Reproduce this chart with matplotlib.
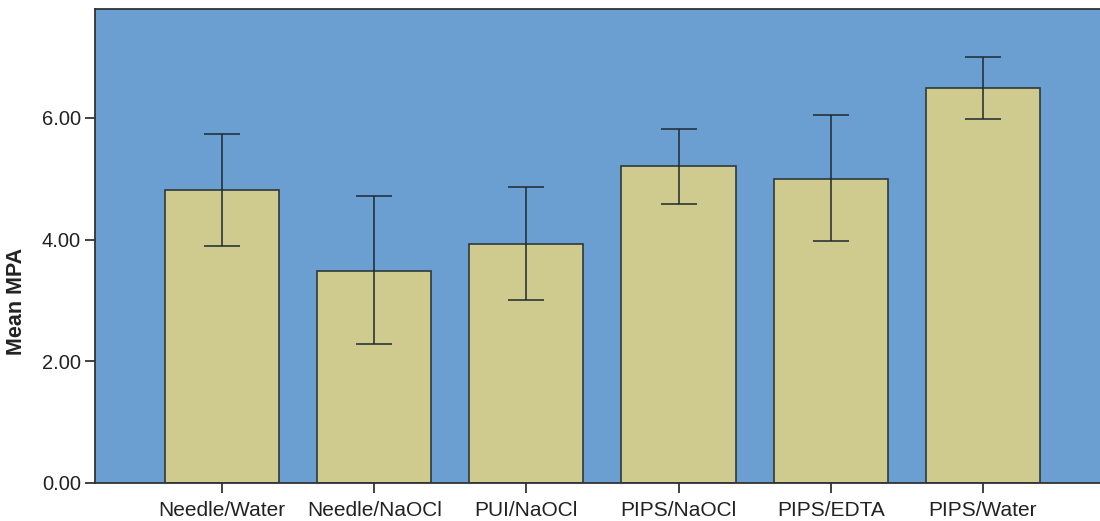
import matplotlib.pyplot as plt
import numpy as np

plt.rcParams["font.family"] = ["Liberation Sans", "DejaVu Sans"]

groups = ["Needle/Water", "Needle/NaOCl", "PUI/NaOCl", "PIPS/NaOCl", "PIPS/EDTA", "PIPS/Water"]
means = [4.81, 3.49, 3.93, 5.21, 5.00, 6.49]
upper = [5.73, 4.72, 4.86, 5.82, 6.04, 7.00]
lower = [3.90, 2.28, 3.00, 4.59, 3.98, 5.98]

W, H = 1100, 521
fig = plt.figure(figsize=(W / 100, H / 100), dpi=100)
ax = fig.add_axes([95 / W, (H - 483) / H, 1 - 95 / W, (483 - 9) / H])
ax.set_facecolor("#6b9fd1")

xpos = np.arange(len(groups))
err = [np.array(means) - np.array(lower), np.array(upper) - np.array(means)]
ax.bar(xpos, means, width=0.75, color="#cfcb8e", edgecolor="#2c383c", linewidth=1.2, zorder=2)
ax.errorbar(xpos, means, yerr=err, fmt="none", ecolor="#1e2a30", elinewidth=1.1,
            capsize=13, capthick=1.1, zorder=3)

ax.set_xlim(-0.835, 5.77)
ax.set_ylim(0, 7.79)
ax.set_yticks([0, 2, 4, 6])
ax.set_yticklabels(["0.00", "2.00", "4.00", "6.00"])
ax.set_xticks(xpos)
ax.set_xticklabels(groups)
ax.tick_params(axis="x", labelsize=15, colors="#222222", length=7, width=1.2, pad=6)
ax.tick_params(axis="y", labelsize=14.5, colors="#222222", length=7, width=1.2, pad=3)

for side in ["left", "bottom", "top"]:
    ax.spines[side].set_color("#333333")
    ax.spines[side].set_linewidth(1.3)
ax.spines["right"].set_visible(False)

fig.text(17 / W, 1 - 301 / H, "Mean MPA", rotation=90, fontsize=15.5, fontweight="bold",
         ha="center", va="center", color="#222222")

fig.savefig("out.png", dpi=100)
